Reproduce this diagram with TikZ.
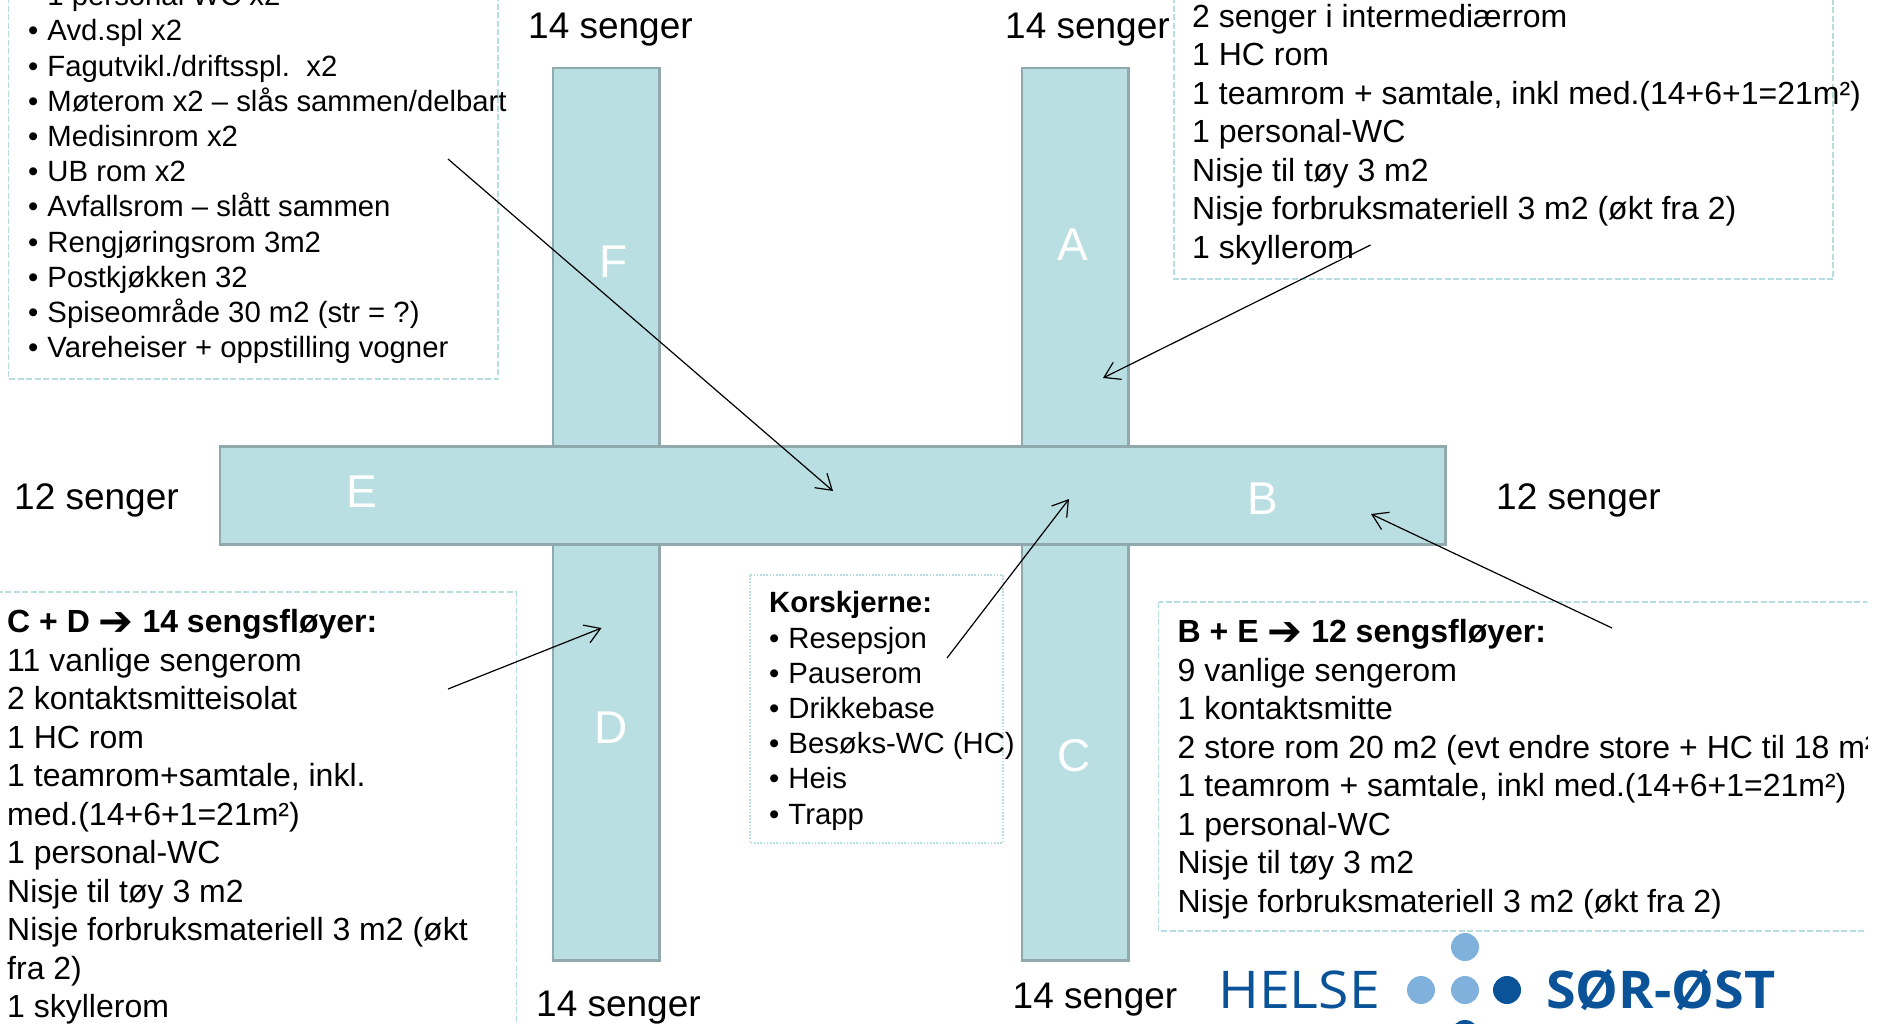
\documentclass[tikz,border=0pt]{standalone}
\usepackage{fontspec}
\setmainfont{Liberation Sans}
\newfontfamily\logofont{Open Sans}
\newfontfamily\arrowfont{DejaVu Sans}
\usetikzlibrary{arrows.meta}
\definecolor{wingfill}{HTML}{BADFE3}
\definecolor{wingline}{HTML}{8FA9AC}
\definecolor{boxline}{HTML}{B5DDE2}
\definecolor{logodark}{HTML}{0B5398}
\definecolor{logolight}{HTML}{7FB1DC}
\newcommand{\fl}{\rule{0pt}{25pt}}
\newcommand{\itm}[1]{\makebox[19.3pt][l]{•}#1}
\newcommand{\harrow}{\raisebox{-2.5pt}{\scalebox{1.3}{\arrowfont\bfseries ➔}}}
\tikzset{
  wing/.style={draw=wingline,fill=wingfill,line width=2.8pt},
  wingletter/.style={text=white,font=\fontsize{46}{46}\selectfont,inner sep=0pt,anchor=center},
  bedlabel/.style={font=\fontsize{37}{40}\selectfont,inner sep=0pt,anchor=base west},
  dashbox/.style={draw=boxline,line width=1.6pt,dash pattern=on 6pt off 2.5pt},
  dotbox/.style={draw=boxline,line width=1.6pt,dash pattern=on 1.6pt off 1.6pt},
  bigtext/.style={align=left,anchor=north west,inner sep=0pt,font=\fontsize{32}{38.5}\selectfont},
  listtext/.style={align=left,anchor=north west,inner sep=0pt,font=\fontsize{29.3}{35.2}\selectfont},
  pointer/.style={draw=black,line width=1.2pt,-{Straight Barb[length=15pt,width=19pt,line width=1.2pt]}},
}
\begin{document}
\begin{tikzpicture}[x=1pt,y=-1pt]
\useasboundingbox (0,0) rectangle (1887,1023);
\begin{scope}
\clip (0,0) rectangle (1867,1023);
% wings
\path[wing] (553,68) rectangle (659.5,960.5);
\path[wing] (1022,68) rectangle (1128.5,960.5);
\path[wing] (220,446.5) rectangle (1445.5,544.5);
\node[wingletter] (F) at (614,262) {F};
\node[wingletter] (A) at (1073,245) {A};
\node[wingletter] (E) at (362,492) {E};
\node[wingletter] (B) at (1263,499) {B};
\node[wingletter] (D) at (611,728) {D};
\node[wingletter] (C) at (1074,756) {C};
% boxes
\path[dashbox] (8.5,-20) rectangle (498,379);
\path[dashbox] (1174,-20) rectangle (1833,279);
\path[dashbox] (-20,592) rectangle (516.5,1040);
\path[dashbox] (1158.5,602) rectangle (1890,931);
\path[dotbox] (750,575) rectangle (1003,843);
% bed labels
\node[bedlabel] (s1) at (528,38) {14 senger};
\node[bedlabel] (s2) at (1005,38) {14 senger};
\node[bedlabel] (s3) at (14,509) {12 senger};
\node[bedlabel] (s4) at (1496,509) {12 senger};
\node[bedlabel] (s5) at (536,1016) {14 senger};
\node[bedlabel] (s6) at (1012.5,1008) {14 senger};
% text blocks
\node[listtext] (stotte) at (28,-19.5) {\fl\itm{1 personal WC x2}\\
\itm{Avd.spl x2}\\
\itm{Fagutvikl./driftsspl.\ \ x2}\\
\itm{Møterom x2 – slås sammen/delbart}\\
\itm{Medisinrom x2}\\
\itm{UB rom x2}\\
\itm{Avfallsrom – slått sammen}\\
\itm{Rengjøringsrom 3m2}\\
\itm{Postkjøkken 32}\\
\itm{Spiseområde 30 m2 (str = ?)}\\
\itm{Vareheiser + oppstilling vogner}};
\node[bigtext] (afloy) at (1192,2.2) {\fl 2 senger i intermediærrom\\
1 HC rom\\
1 teamrom + samtale, inkl med.(14+6+1=21m²)\\
1 personal-WC\\
Nisje til tøy 3 m2\\
Nisje forbruksmateriell 3 m2 (økt fra 2)\\
1 skyllerom};
\node[bigtext] (cd) at (7,607.5) {\fl\textbf{C + D \harrow{} 14 sengsfløyer:}\\
11 vanlige sengerom\\
2 kontaktsmitteisolat\\
1 HC rom\\
1 teamrom+samtale, inkl.\\
med.(14+6+1=21m²)\\
1 personal-WC\\
Nisje til tøy 3 m2\\
Nisje forbruksmateriell 3 m2 (økt\\
fra 2)\\
1 skyllerom};
\node[bigtext] (be) at (1177.5,617.3) {\fl\textbf{B + E \harrow{} 12 sengsfløyer:}\\
9 vanlige sengerom\\
1 kontaktsmitte\\
2 store rom 20 m2 (evt endre store + HC til 18 m²)\\
1 teamrom + samtale, inkl med.(14+6+1=21m²)\\
1 personal-WC\\
Nisje til tøy 3 m2\\
Nisje forbruksmateriell 3 m2 (økt fra 2)};
\node[listtext] (kors) at (769,587.7) {\fl\textbf{Korskjerne:}\\
\itm{Resepsjon}\\
\itm{Pauserom}\\
\itm{Drikkebase}\\
\itm{Besøks-WC (HC)}\\
\itm{Heis}\\
\itm{Trapp}};
% pointers
\coordinate (p1a) at (448,159);   \coordinate (p1b) at (833,491);
\coordinate (p2a) at (1370.5,245);\coordinate (p2b) at (1103,378);
\coordinate (p3a) at (947,658);   \coordinate (p3b) at (1069,499);
\coordinate (p4a) at (448,689);   \coordinate (p4b) at (601.5,628);
\coordinate (p5a) at (1612,628);  \coordinate (p5b) at (1371,514);
\draw[pointer] (p1a) -- (p1b);
\draw[pointer] (p2a) -- (p2b);
\draw[pointer] (p3a) -- (p3b);
\draw[pointer] (p4a) -- (p4b);
\draw[pointer] (p5a) -- (p5b);
% logo
\node[inner sep=0pt,anchor=base west,text=logodark,font=\logofont\fontsize{52}{52}\selectfont] (helse) at (1218,1008) {\scalebox{1.065}[1]{HELSE}};
\node[inner sep=0pt,anchor=base west,text=logodark,font=\logofont\bfseries\fontsize{52}{52}\selectfont] (sorost) at (1546,1008) {\scalebox{1.035}[1]{SØR-ØST}};
\fill[logolight] (1465,947) circle (14);
\fill[logolight] (1421,990) circle (14);
\fill[logolight] (1465,990) circle (14);
\fill[logodark] (1507,990) circle (14);
\fill[logodark] (1465,1034) circle (14);
\end{scope}
\end{tikzpicture}
\end{document}
